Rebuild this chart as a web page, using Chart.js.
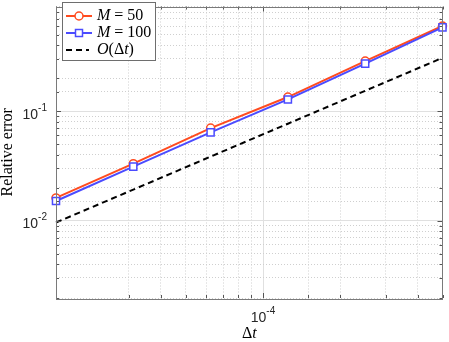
<!DOCTYPE html>
<html lang="en">
<head>
<meta charset="UTF-8">
<title>Relative error vs time step</title>
<script src="https://cdn.jsdelivr.net/npm/chart.js@4.4.1/dist/chart.umd.min.js"></script>
<style>
  body { margin: 0; background: #fff; }
  #errorChart { display: block; }
</style>
</head>
<body>
<canvas id="errorChart" width="449" height="342"></canvas>
<script>
// values
const dt = [1.5625e-5, 3.125e-5, 6.25e-5, 1.25e-4, 2.5e-4, 5e-4];
const errM50 = [0.0161, 0.0331, 0.0700, 0.1346, 0.287, 0.600];
const errM100 = [0.0151, 0.0311, 0.0640, 0.1280, 0.272, 0.583];
const refOrder1 = [0.0096, 0.0192, 0.0384, 0.0768, 0.1536, 0.3072];
const seriesLabels = ['M = 50', 'M = 100', 'O(Δt)'];
const xTickValues = [1e-4];
const xTickExps = ['-4'];
const yTickValues = [1e-2, 1e-1];
const yTickExps = ['-2', '-1'];

const RED = '#ff4b1f';
const BLUE = '#4b4bff';

const isDecade = v => Math.abs(Math.log10(v) - Math.round(Math.log10(v))) < 1e-9;
const pts = ys => dt.map((x, i) => ({ x: x, y: ys[i] }));

// draw text with ascii letters in italic (math style), rest upright
function drawMath(ctx, text, x, y, size, align) {
  const parts = [];
  for (const ch of text) {
    const it = /[A-Za-z]/.test(ch);
    const last = parts[parts.length - 1];
    if (last && last.it === it) last.s += ch;
    else parts.push({ s: ch, it: it });
  }
  let total = 0;
  parts.forEach(p => {
    ctx.font = (p.it ? 'italic ' : '') + size + 'px "Liberation Serif"';
    p.w = ctx.measureText(p.s).width;
    total += p.w;
  });
  let cx = align === 'center' ? x - total / 2 : x;
  ctx.textAlign = 'left';
  ctx.textBaseline = 'middle';
  ctx.fillStyle = '#000';
  parts.forEach(p => {
    ctx.font = (p.it ? 'italic ' : '') + size + 'px "Liberation Serif"';
    ctx.fillText(p.s, cx, y);
    cx += p.w;
  });
}

// 10^exp label, x is right edge (align right) or centre
function drawPow(ctx, exp, x, y, align) {
  ctx.font = '14px "Liberation Sans"';
  const wb = ctx.measureText('10').width;
  ctx.font = '10px "Liberation Sans"';
  const we = ctx.measureText(exp).width;
  const x0 = align === 'right' ? x - wb - we : x - (wb + we) / 2;
  ctx.fillStyle = '#262626';
  ctx.textAlign = 'left';
  ctx.textBaseline = 'middle';
  ctx.font = '14px "Liberation Sans"';
  ctx.fillText('10', x0, y + 4);
  ctx.font = '10px "Liberation Sans"';
  ctx.fillText(exp, x0 + wb, y - 3);
}

const axesDecor = {
  id: 'axesDecor',
  afterDraw(chart) {
    const ctx = chart.ctx;
    const a = chart.chartArea;
    const xs = chart.scales.x, ys = chart.scales.y;
    ctx.save();

    // inward tick marks
    ctx.strokeStyle = '#555';
    ctx.lineWidth = 1;
    ctx.beginPath();
    xs.ticks.forEach(t => {
      const px = Math.round(xs.getPixelForValue(t.value)) + 0.5;
      const len = isDecade(t.value) ? 5 : 3;
      ctx.moveTo(px, a.bottom); ctx.lineTo(px, a.bottom - len);
      ctx.moveTo(px, a.top); ctx.lineTo(px, a.top + len);
    });
    ys.ticks.forEach(t => {
      const py = Math.round(ys.getPixelForValue(t.value)) + 0.5;
      const len = isDecade(t.value) ? 5 : 3;
      ctx.moveTo(a.left, py); ctx.lineTo(a.left + len, py);
      ctx.moveTo(a.right, py); ctx.lineTo(a.right - len, py);
    });
    ctx.stroke();

    // box
    ctx.strokeStyle = '#7a7a7a';
    ctx.strokeRect(Math.round(a.left) + 0.5, Math.round(a.top) + 0.5,
      Math.round(a.right - a.left) - 1, Math.round(a.bottom - a.top));

    // tick labels
    yTickValues.forEach((v, i) => drawPow(ctx, yTickExps[i], a.left - 9, ys.getPixelForValue(v), 'right'));
    xTickValues.forEach((v, i) => drawPow(ctx, xTickExps[i], xs.getPixelForValue(v), a.bottom + 16, 'center'));

    // x title
    drawMath(ctx, 'Δt', (a.left + a.right) / 2, 334, 16, 'center');

    // legend
    const lx = 62, ly = 2, lw = 93, lh = 58;
    ctx.fillStyle = '#fff';
    ctx.fillRect(lx, ly, lw, lh);
    ctx.strokeStyle = '#6e6e6e';
    ctx.lineWidth = 1;
    ctx.strokeRect(lx + 0.5, ly + 0.5, lw, lh);
    chart.data.datasets.forEach((ds, i) => {
      const ry = 16 + i * 17;
      ctx.strokeStyle = ds.borderColor;
      ctx.lineWidth = 2;
      ctx.setLineDash(ds.borderDash || []);
      ctx.beginPath();
      ctx.moveTo(66, ry); ctx.lineTo(ds.borderDash ? 89 : 92, ry);
      ctx.stroke();
      ctx.setLineDash([]);
      if (ds.pointRadius > 0) {
        ctx.fillStyle = '#fff';
        ctx.lineWidth = 1.5;
        ctx.beginPath();
        if (ds.pointStyle === 'rect') {
          ctx.rect(79 - 3.5, ry - 3.5, 7, 7);
        } else {
          ctx.arc(79, ry, 4, 0, Math.PI * 2);
        }
        ctx.fill();
        ctx.stroke();
      }
      drawMath(ctx, ds.label, 97, ry, 16, 'left');
    });
    ctx.restore();
  }
};

function createChart() {
  const ctx = document.getElementById('errorChart').getContext('2d');
  new Chart(ctx, {
    type: 'line',
    data: {
      datasets: [
        {
          label: seriesLabels[0],
          data: pts(errM50),
          borderColor: RED,
          backgroundColor: '#fff',
          borderWidth: 2,
          pointStyle: 'circle',
          pointRadius: 4,
          pointBorderWidth: 1.5,
          pointBackgroundColor: '#fff',
          pointBorderColor: RED,
          clip: false,
          order: 2
        },
        {
          label: seriesLabels[1],
          data: pts(errM100),
          borderColor: BLUE,
          backgroundColor: '#fff',
          borderWidth: 2,
          pointStyle: 'rect',
          pointRadius: 5,
          pointBorderWidth: 1.5,
          pointBackgroundColor: '#fff',
          pointBorderColor: BLUE,
          clip: false,
          order: 1
        },
        {
          label: seriesLabels[2],
          data: pts(refOrder1),
          borderColor: '#000',
          borderWidth: 2,
          borderDash: [6, 4],
          pointRadius: 0,
          clip: false,
          order: 3
        }
      ]
    },
    options: {
      responsive: false,
      animation: false,
      layout: { padding: { left: 0, top: 1, right: 6, bottom: 0 } },
      plugins: { legend: { display: false }, tooltip: { enabled: false } },
      scales: {
        x: {
          type: 'logarithmic',
          min: 1.5625e-5,
          max: 5e-4,
          ticks: { display: false, autoSkip: false },
          grid: {
            drawTicks: false,
            color: c => c.tick && isDecade(c.tick.value) ? '#e0e0e0' : '#cfcfcf'
          },
          border: {
            display: false,
            dash: c => (c.tick && !isDecade(c.tick.value)) ? [1, 2] : []
          },
          afterFit: s => { s.height = 44; }
        },
        y: {
          type: 'logarithmic',
          min: 0.00196,
          max: 0.905,
          ticks: { display: false, autoSkip: false },
          grid: {
            drawTicks: false,
            color: c => c.tick && isDecade(c.tick.value) ? '#e0e0e0' : '#cfcfcf'
          },
          border: {
            display: false,
            dash: c => (c.tick && !isDecade(c.tick.value)) ? [1, 2] : []
          },
          title: {
            display: true,
            text: 'Relative error',
            color: '#000',
            font: { family: 'Liberation Serif', size: 16, lineHeight: 1 },
            padding: 0
          },
          afterFit: s => { s.width = 56; }
        }
      }
    },
    plugins: [axesDecor]
  });
}

window.onload = createChart;
</script>
</body>
</html>
